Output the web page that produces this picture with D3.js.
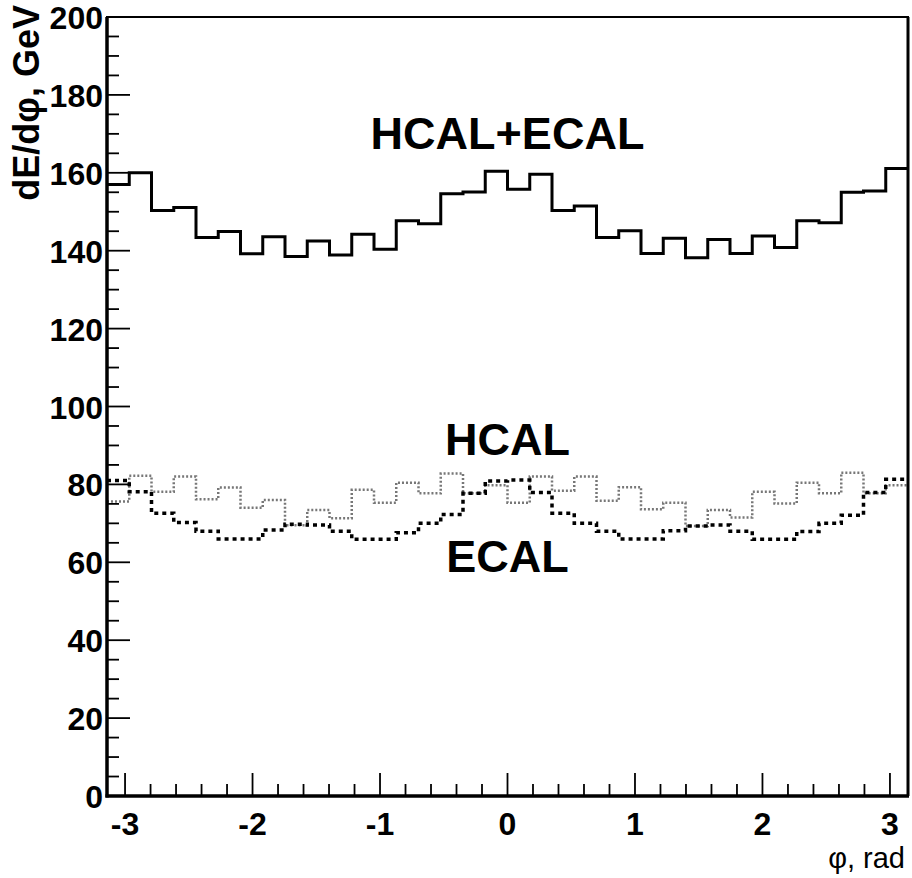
<!DOCTYPE html>
<html>
<head>
<meta charset="utf-8">
<script src="https://cdn.jsdelivr.net/npm/d3@7.9.0/dist/d3.min.js"></script>
<style>
  html, body { margin: 0; padding: 0; background: #fff; }
  svg { display: block; }
  text { font-family: "Liberation Sans", Arial, Helvetica, sans-serif; }
</style>
</head>
<body>
<svg id="chart" width="912" height="878"></svg>
<script>
// 36 bins in phi, -pi..pi
const nBins = 36;

const sumValues = [157, 160, 150.3, 151.1, 143.4, 144.9, 139.2, 143.6, 138.5, 142.5,
    138.9, 144.2, 140.4, 147.7, 146.9, 154.6, 155.1, 160.4, 155.8, 159.6,
    150.3, 151.5, 143.4, 145.1, 139.3, 143.2, 138.2, 142.9, 139.3, 143.8,
    140.8, 147.7, 147.2, 155.0, 155.3, 161.1];

const hcalValues = [75.6, 82.2, 78.1, 82.0, 76.2, 79.2, 74.0, 76.0, 69.5, 73.4,
    71.3, 78.6, 75.3, 80.4, 77.7, 82.8, 77.7, 79.8, 75.3, 82.0,
    78.4, 82.0, 75.8, 79.3, 73.6, 75.3, 69.3, 73.4, 71.5, 78.1,
    75.1, 80.4, 77.7, 83.0, 77.7, 79.8];

const ecalValues = [81.0, 78.1, 72.6, 70.2, 68.0, 66.0, 66.0, 68.3, 69.8, 69.6,
    68.0, 65.9, 65.9, 67.6, 70.0, 72.3, 77.7, 80.9, 81.1, 77.9,
    72.6, 70.0, 68.0, 66.0, 66.0, 68.1, 69.3, 69.6, 68.0, 65.9,
    65.9, 67.9, 70.0, 72.1, 77.9, 81.3];

const xTickLabels = [-3, -2, -1, 0, 1, 2, 3];
const yTickLabels = [0, 20, 40, 60, 80, 100, 120, 140, 160, 180, 200];

const svg = d3.select('#chart');

const padLeft = 107, padRight = 908, padTop = 17, padBottom = 796;

const x = d3.scaleLinear().domain([-Math.PI, Math.PI]).range([padLeft, padRight]);
const y = d3.scaleLinear().domain([0, 200]).range([padBottom, padTop]);

const binWidth = 2 * Math.PI / nBins;

function stepPoints(values) {
    const pts = values.map((v, i) => [-Math.PI + i * binWidth, v]);
    pts.push([Math.PI, values[values.length - 1]]);
    return pts;
}

const line = d3.line()
    .x(d => x(d[0]))
    .y(d => y(d[1]))
    .curve(d3.curveStepAfter);

// histograms
svg.append('path')
    .attr('d', line(stepPoints(hcalValues)))
    .attr('fill', 'none')
    .attr('stroke', '#777')
    .attr('stroke-width', 2.5)
    .attr('stroke-dasharray', '2,2');

svg.append('path')
    .attr('d', line(stepPoints(ecalValues)))
    .attr('fill', 'none')
    .attr('stroke', '#000')
    .attr('stroke-width', 3.5)
    .attr('stroke-dasharray', '4,4');

svg.append('path')
    .attr('d', line(stepPoints(sumValues)))
    .attr('fill', 'none')
    .attr('stroke', '#000')
    .attr('stroke-width', 3);

// frame
svg.append('rect')
    .attr('x', padLeft)
    .attr('y', padTop)
    .attr('width', padRight - padLeft)
    .attr('height', padBottom - padTop)
    .attr('fill', 'none')
    .attr('stroke', '#000')
    .attr('stroke-width', 2);

svg.append('line')
    .attr('x1', padLeft).attr('x2', padLeft)
    .attr('y1', padTop).attr('y2', padBottom + 1.5)
    .attr('stroke', '#000').attr('stroke-width', 3.5);

svg.append('line')
    .attr('x1', padLeft - 1.5).attr('x2', padRight + 1)
    .attr('y1', padBottom).attr('y2', padBottom)
    .attr('stroke', '#000').attr('stroke-width', 3.5);

svg.append('line')
    .attr('x1', padRight).attr('x2', padRight)
    .attr('y1', padTop).attr('y2', padBottom)
    .attr('stroke', '#000').attr('stroke-width', 3);

// y axis ticks (inside)
const yMinor = d3.range(0, 201, 5);
svg.append('g')
    .selectAll('line')
    .data(yMinor)
    .join('line')
    .attr('x1', padLeft)
    .attr('x2', d => padLeft + (d % 20 === 0 ? 23 : 12))
    .attr('y1', d => y(d))
    .attr('y2', d => y(d))
    .attr('stroke', '#000')
    .attr('stroke-width', 1.8);

svg.append('g')
    .selectAll('text')
    .data(yTickLabels)
    .join('text')
    .attr('x', padLeft - 4)
    .attr('y', d => y(d) + 12)
    .attr('text-anchor', 'end')
    .attr('font-size', 32)
    .attr('font-weight', 'bold')
    .text(d => d);

// x axis ticks (inside)
const xMinor = d3.range(-15, 16).map(i => i / 5);
svg.append('g')
    .selectAll('line')
    .data(xMinor)
    .join('line')
    .attr('x1', d => x(d))
    .attr('x2', d => x(d))
    .attr('y1', padBottom)
    .attr('y2', (d, i) => padBottom - ((i % 5 === 0) ? 23 : 12))
    .attr('stroke', '#000')
    .attr('stroke-width', 1.8);

svg.append('g')
    .selectAll('text')
    .data(xTickLabels)
    .join('text')
    .attr('x', d => x(d))
    .attr('y', 835)
    .attr('text-anchor', 'middle')
    .attr('font-size', 32)
    .attr('font-weight', 'bold')
    .text(d => d);

// axis titles
svg.append('text')
    .attr('transform', 'translate(39,5) rotate(-90)')
    .attr('text-anchor', 'end')
    .attr('font-size', 36)
    .attr('font-weight', 'bold')
    .text('dE/dφ, GeV');

svg.append('text')
    .attr('x', 905)
    .attr('y', 868)
    .attr('text-anchor', 'end')
    .attr('font-size', 29)
    .text('φ, rad');

// curve labels
const labels = [
    { text: 'HCAL+ECAL', value: 166 },
    { text: 'HCAL', value: 87.5 },
    { text: 'ECAL', value: 57.5 }
];
svg.append('g')
    .selectAll('text')
    .data(labels)
    .join('text')
    .attr('x', x(0))
    .attr('y', d => y(d.value))
    .attr('text-anchor', 'middle')
    .attr('font-size', 45)
    .attr('font-weight', 'bold')
    .text(d => d.text);
</script>
</body>
</html>
